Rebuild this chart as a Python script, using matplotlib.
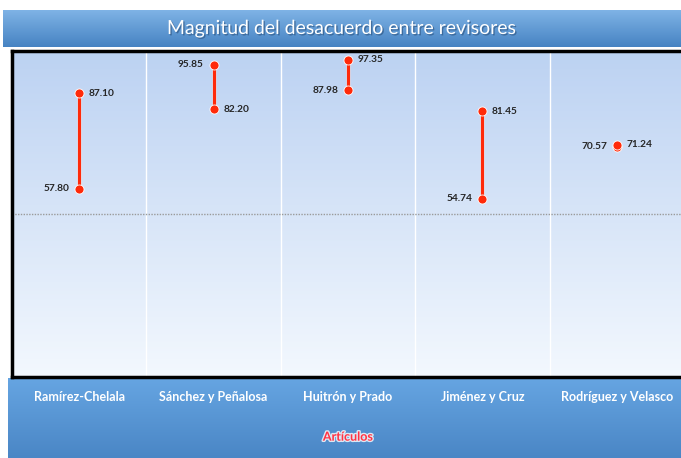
import numpy as np
import matplotlib.pyplot as plt
import matplotlib.patheffects as pe
from matplotlib.colors import LinearSegmentedColormap

# datos del grafico
articulos = ["Ramírez-Chelala", "Sánchez y Peñalosa", "Huitrón y Prado",
             "Jiménez y Cruz", "Rodríguez y Velasco"]
revisor_1 = [57.80, 95.85, 87.98, 54.74, 70.57]   # etiqueta a la izquierda
revisor_2 = [87.10, 82.20, 97.35, 81.45, 71.24]   # etiqueta a la derecha

plt.rcParams['font.family'] = ['Lato', 'DejaVu Sans']

W, H = 681, 458
fig = plt.figure(figsize=(W / 100, H / 100), dpi=100)


def box(x0, y0, x1, y1):
    # pixeles medidos desde arriba a la izquierda -> fraccion de la figura
    return [x0 / W, 1 - y1 / H, (x1 - x0) / W, (y1 - y0) / H]


def gradient(ax, top, bottom, extent=(0, 1, 0, 1), zorder=0):
    cmap = LinearSegmentedColormap.from_list("g", [top, bottom])
    ax.imshow(np.linspace(0, 1, 256).reshape(-1, 1), cmap=cmap, aspect='auto',
              extent=extent, origin='upper', zorder=zorder)


# sombras de las bandas
for b in (box(1, 12, 681, 49), box(6, 380, 681, 458)):
    s = fig.add_axes(b)
    s.set_facecolor('#b8c2cc')
    s.axis('off')
    s.patch.set_visible(True)

# banda del titulo
tax = fig.add_axes(box(3, 10, 681, 47))
gradient(tax, '#7fb3e6', '#4683c2')
tax.axis('off')
tax.text(0.5, 0.5, "Magnitud del desacuerdo entre revisores", color='white',
         fontsize=14, ha='center', va='center', transform=tax.transAxes,
         path_effects=[pe.withSimplePatchShadow(offset=(1, -1), shadow_rgbFace='#2a4f7a', alpha=0.6)])

# banda inferior
bax = fig.add_axes(box(8, 378, 681, 458))
gradient(bax, '#66a5e2', '#4a86c5')
bax.axis('off')

# area del grafico
ax = fig.add_axes(box(12, 51, 684, 377))
ax.set_xlim(-0.5, 4.5)
ax.set_ylim(0, 100)
gradient(ax, '#bcd2f2', '#f3f8fe', extent=(-0.5, 4.5, 0, 100))

for x in np.arange(0.5, 4.5, 1):
    ax.axvline(x, color='white', lw=1, zorder=1)
ax.axhline(50, color='#9a9a9a', lw=1, linestyle=(0, (1, 1)), zorder=1)

red = '#ff2a0a'
glow = [pe.Stroke(linewidth=3.5, foreground='white', alpha=0.35), pe.Normal()]
for i, (a, b) in enumerate(zip(revisor_1, revisor_2)):
    ax.plot([i, i], [a, b], color=red, lw=2.3, zorder=3, path_effects=glow)
    ax.plot([i, i], [a, b], linestyle='none', marker='o', ms=6.5, color=red,
            markeredgecolor='white', markeredgewidth=0.6, zorder=4)
    ax.annotate(f"{a:.2f}", (i, a), xytext=(-7, 0), textcoords='offset points',
                ha='right', va='center', fontsize=7.3, fontweight='bold', color='#262626')
    ax.annotate(f"{b:.2f}", (i, b), xytext=(7, 0), textcoords='offset points',
                ha='left', va='center', fontsize=7.3, fontweight='bold', color='#262626')

ax.set_xticks(range(len(articulos)))
ax.set_xticklabels(articulos, color='white', fontsize=9, fontweight='bold')
ax.tick_params(axis='x', length=0, pad=10)
ax.set_yticks([])
ax.set_xlabel("Artículos", color='#ff3344', fontsize=9, fontweight='bold', labelpad=20,
              path_effects=[pe.Stroke(linewidth=2, foreground='white', alpha=0.8), pe.Normal()])

for side in ('left', 'top', 'bottom', 'right'):
    ax.spines[side].set_color('black')
    ax.spines[side].set_linewidth(2.5)
    ax.spines[side].set_zorder(5)

fig.savefig("out.png", dpi=100)
